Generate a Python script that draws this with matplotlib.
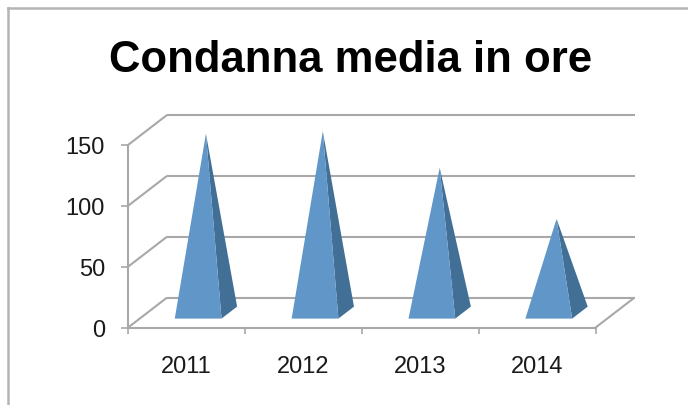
import matplotlib
matplotlib.use("Agg")
import matplotlib.pyplot as plt
from matplotlib.lines import Line2D
from matplotlib.patches import Polygon

years = ["2011", "2012", "2013", "2014"]
hours = [147, 149, 119, 77]
y_ticks = [0, 50, 100, 150]
title = "Condanna media in ore"

W, H = 688, 406
GRID = "#a8a8a8"
FRONT = "#6096c8"
SIDE = "#426f96"

plt.rcParams["font.family"] = ["Liberation Sans", "DejaVu Sans"]

fig = plt.figure(figsize=(W / 100, H / 100), dpi=100, facecolor="white")
ax = fig.add_axes([128 / W, (H - 328.6) / H, (595.5 - 128) / W, 182.6 / H])
ax.set_xlim(0, len(years))
ax.set_ylim(0, 150)
ax.patch.set_visible(False)

# Oblique projection: shift of one full unit of depth, in data units
DEPTH_X = 39 / (467.5 / 4)
DEPTH_Y = 30 / (182.6 / 150)


def project(x, y, d):
    return x + d * DEPTH_X, y + d * DEPTH_Y


def wall_line(p, q):
    xs, ys = zip(project(*p), project(*q))
    ax.plot(xs, ys, color=GRID, lw=1.5, clip_on=False, zorder=1, solid_capstyle="butt")


n = len(years)
for v in y_ticks:
    wall_line((0, v, 0), (0, v, 1))
    wall_line((0, v, 1), (n, v, 1))
wall_line((n, 0, 0), (n, 0, 1))

# Pyramids: front face and right face, with base centred in the depth
half = 0.2
d0, d1 = 0.3, 0.7
for i, v in enumerate(hours):
    c = i + 0.5
    apex = project(c, v, 0.5)
    fl = project(c - half, 0, d0)
    fr = project(c + half, 0, d0)
    br = project(c + half, 0, d1)
    ax.add_patch(Polygon([fr, br, apex], closed=True, fc=SIDE, ec="none", clip_on=False, zorder=3))
    ax.add_patch(Polygon([fl, fr, apex], closed=True, fc=FRONT, ec="none", clip_on=False, zorder=4))

for side in ("top", "right"):
    ax.spines[side].set_visible(False)
for side in ("left", "bottom"):
    ax.spines[side].set_color(GRID)
    ax.spines[side].set_linewidth(1.5)

ax.set_yticks(y_ticks)
ax.set_xticks(range(n + 1))
ax.set_xticklabels([])
ax.set_xticks([i + 0.5 for i in range(n)], labels=years, minor=True)
ax.tick_params(axis="y", which="major", length=5, width=1.2, color=GRID,
               labelsize=17, labelcolor="#1a1a1a", pad=11.5)
ax.tick_params(axis="x", which="major", length=4.5, width=1.2, color=GRID)
ax.tick_params(axis="x", which="minor", length=0, labelsize=17, labelcolor="#1a1a1a", pad=20)

fig.text(351 / W, 1 - 60 / H, title, ha="center", va="center",
         fontsize=31.4, fontweight="bold", color="black")

# Chart frame, open towards the right and bottom edges
fig.add_artist(Line2D([7.5 / W, 7.5 / W], [-0.01, 1 - 9 / H], color="#b4b4b4", lw=1.8))
fig.add_artist(Line2D([7.5 / W, 1.01], [1 - 9 / H, 1 - 9 / H], color="#b4b4b4", lw=1.8))

fig.savefig("out.png", dpi=100)
